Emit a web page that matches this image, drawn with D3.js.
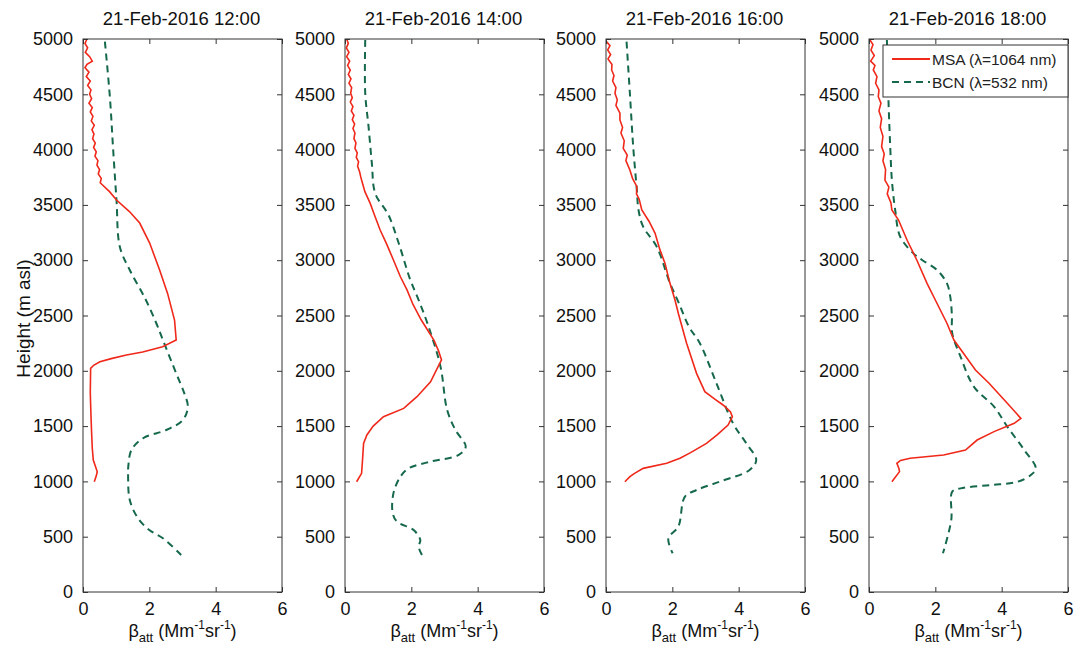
<!DOCTYPE html>
<html>
<head>
<meta charset="UTF-8">
<title>Attenuated backscatter profiles</title>
<style>
  body { margin: 0; background: white; font-family: "Liberation Sans", Arial, sans-serif; }
  .axis path, .axis line { stroke: #333; }
  .axis text { font-size: 18px; fill: #111; font-family: "Liberation Sans", Arial, sans-serif; }
</style>
</head>
<body>
<script src="https://d3js.org/d3.v7.min.js"></script>
<script>
// panel titles
var titles = ["21-Feb-2016 12:00", "21-Feb-2016 14:00", "21-Feb-2016 16:00", "21-Feb-2016 18:00"];
var xTicks = [0, 2, 4, 6];
var yTicks = [0, 500, 1000, 1500, 2000, 2500, 3000, 3500, 4000, 4500, 5000];
var seriesNames = ["MSA (\u03bb=1064 nm)", "BCN (\u03bb=532 nm)"];

// [height m, beta]
var msa12 = [[5000,0.12],[4960,0.06],[4920,0.14],[4880,0.07],[4840,0.2],[4800,0.28],[4770,0.12],[4740,0.06],[4700,0.18],[4660,0.1],[4620,0.22],[4580,0.14],[4540,0.24],[4500,0.2],[4460,0.26],[4420,0.18],[4380,0.28],[4340,0.22],[4300,0.3],[4260,0.25],[4220,0.34],[4180,0.27],[4140,0.33],[4100,0.29],[4060,0.37],[4020,0.32],[3980,0.4],[3940,0.36],[3900,0.45],[3860,0.42],[3820,0.5],[3780,0.46],[3740,0.55],[3700,0.52],[3680,0.59],[3620,0.8],[3544,1.01],[3440,1.4],[3336,1.71],[3155,2.01],[2911,2.31],[2700,2.55],[2459,2.76],[2278,2.81],[2218,2.4],[2170,1.8],[2143,1.31],[2110,0.85],[2082,0.51],[2050,0.32],[2022,0.23],[1800,0.22],[1600,0.24],[1437,0.26],[1300,0.28],[1193,0.31],[1088,0.43],[1050,0.4],[997,0.34]];
var bcn12 = [[4976,0.66],[4478,0.81],[3996,0.91],[3544,1.01],[3122,1.11],[2911,1.41],[2650,1.88],[2430,2.21],[2278,2.41],[1977,2.81],[1800,3.05],[1676,3.16],[1555,3.01],[1465,2.51],[1390,1.81],[1284,1.46],[1150,1.37],[1043,1.36],[832,1.41],[666,1.66],[560,2.0],[486,2.41],[335,2.96]];

var msa14 = [[5000,0.05],[4960,0.1],[4920,0.04],[4880,0.12],[4840,0.05],[4800,0.14],[4760,0.08],[4720,0.16],[4680,0.1],[4640,0.18],[4600,0.12],[4560,0.2],[4509,0.17],[4470,0.22],[4430,0.16],[4390,0.24],[4350,0.19],[4310,0.27],[4270,0.22],[4230,0.29],[4190,0.24],[4150,0.3],[4100,0.27],[4060,0.33],[4011,0.3],[3970,0.37],[3930,0.34],[3890,0.41],[3850,0.38],[3800,0.44],[3760,0.47],[3725,0.5],[3620,0.6],[3514,0.76],[3400,0.9],[3273,1.06],[3150,1.25],[3002,1.46],[2850,1.67],[2731,1.87],[2600,2.05],[2459,2.3],[2278,2.68],[2180,2.82],[2098,2.91],[2022,2.78],[1901,2.58],[1766,2.17],[1660,1.77],[1585,1.16],[1500,0.85],[1420,0.66],[1344,0.56],[1200,0.53],[1073,0.5],[997,0.35]];
var bcn14 = [[4991,0.61],[4509,0.61],[4208,0.71],[3876,0.81],[3605,0.91],[3409,1.31],[3153,1.62],[2821,1.97],[2640,2.22],[2399,2.52],[2037,2.88],[1646,3.08],[1465,3.33],[1314,3.64],[1239,3.43],[1179,2.58],[1118,1.92],[1043,1.67],[892,1.46],[711,1.44],[636,1.57],[560,2.07],[470,2.27],[410,2.22],[335,2.32]];

var msa16 = [[4976,0.02],[4940,0.12],[4900,0.05],[4860,0.14],[4820,0.06],[4770,0.18],[4720,0.17],[4670,0.24],[4620,0.2],[4560,0.3],[4509,0.27],[4450,0.34],[4400,0.3],[4330,0.42],[4268,0.42],[4200,0.5],[4150,0.45],[4080,0.55],[4011,0.52],[3950,0.64],[3900,0.6],[3816,0.72],[3740,0.8],[3665,0.93],[3600,0.92],[3550,1.0],[3454,1.08],[3350,1.3],[3243,1.48],[3100,1.62],[2971,1.78],[2800,1.92],[2640,2.08],[2520,2.18],[2249,2.43],[1977,2.73],[1811,2.98],[1740,3.3],[1691,3.53],[1630,3.75],[1585,3.81],[1510,3.68],[1420,3.35],[1344,3.03],[1260,2.55],[1209,2.23],[1164,1.83],[1118,1.12],[1070,0.85],[1043,0.72],[997,0.57]];
var bcn16 = [[4976,0.62],[4509,0.72],[4027,0.82],[3635,0.93],[3454,0.98],[3303,1.12],[3122,1.53],[2791,1.93],[2610,2.2],[2399,2.5],[2249,2.83],[1887,3.33],[1525,3.83],[1344,4.23],[1193,4.53],[1103,4.33],[997,3.42],[922,2.73],[862,2.38],[591,2.18],[486,1.88],[350,2.01]];

var msa18 = [[4991,0.03],[4950,0.12],[4900,0.06],[4850,0.16],[4800,0.05],[4760,0.18],[4720,0.13],[4660,0.24],[4600,0.2],[4540,0.3],[4478,0.28],[4420,0.36],[4350,0.3],[4280,0.38],[4200,0.34],[4120,0.42],[4027,0.38],[3960,0.46],[3900,0.42],[3820,0.5],[3725,0.48],[3660,0.6],[3600,0.55],[3520,0.66],[3454,0.69],[3363,0.89],[3180,1.15],[3002,1.44],[2791,1.75],[2640,2.0],[2430,2.35],[2278,2.56],[2007,3.21],[1887,3.62],[1706,4.17],[1570,4.58],[1525,4.38],[1450,3.77],[1374,3.26],[1284,2.91],[1239,2.25],[1209,1.24],[1190,0.95],[1164,0.84],[1120,0.9],[1088,0.92],[997,0.69]];
var bcn18 = [[4991,0.54],[4418,0.59],[4027,0.64],[3725,0.69],[3454,0.79],[3213,0.94],[3062,1.34],[3002,1.6],[2911,2.05],[2791,2.35],[2670,2.45],[2500,2.5],[2339,2.51],[2128,2.76],[1857,3.16],[1676,3.77],[1495,4.17],[1284,4.68],[1118,5.03],[1058,4.88],[997,4.48],[967,3.67],[937,2.76],[907,2.51],[651,2.48],[350,2.23]];

var msaAll = [msa12, msa14, msa16, msa18];
var bcnAll = [bcn12, bcn14, bcn16, bcn18];

var width = 1082, height = 646;
var red = "#f0281a", green = "#15694a";
var panelLeft = [83, 345, 606, 869];
var panelW = 199, plotTop = 39, plotBottom = 592;

var svg = d3.select("body").append("svg")
    .attr("width", width)
    .attr("height", height);

var y = d3.scaleLinear().domain([0, 5000]).range([plotBottom, plotTop]);

titles.forEach(function(t, i) {
    var x = d3.scaleLinear().domain([0, 6]).range([panelLeft[i], panelLeft[i] + panelW]);
    var g = svg.append("g");

    var line = d3.line()
        .x(function(d) { return x(d[1]); })
        .y(function(d) { return y(d[0]); });

    g.append("path")
        .datum(bcnAll[i])
        .attr("d", line.curve(d3.curveCatmullRom.alpha(0.5)))
        .attr("fill", "none").attr("stroke", green)
        .attr("stroke-width", 2).attr("stroke-dasharray", "7,5");

    g.append("path")
        .datum(msaAll[i])
        .attr("d", line.curve(d3.curveLinear))
        .attr("fill", "none").attr("stroke", red)
        .attr("stroke-width", 1.6);

    // box
    g.append("rect")
        .attr("x", x(0)).attr("y", plotTop)
        .attr("width", x(6) - x(0)).attr("height", plotBottom - plotTop)
        .attr("fill", "none").attr("stroke", "#333").attr("stroke-width", 1);

    // inward ticks, all four sides
    g.append("g").attr("class", "axis")
        .attr("transform", "translate(0," + plotBottom + ")")
        .call(d3.axisBottom(x).tickValues(xTicks).tickSizeInner(-5).tickSizeOuter(0).tickPadding(10).tickFormat(d3.format("d")))
        .call(function(a) { a.select(".domain").remove(); });
    g.append("g").attr("class", "axis")
        .attr("transform", "translate(0," + plotTop + ")")
        .call(d3.axisTop(x).tickValues(xTicks).tickSizeInner(-5).tickSizeOuter(0).tickFormat(""))
        .call(function(a) { a.select(".domain").remove(); });
    g.append("g").attr("class", "axis")
        .attr("transform", "translate(" + x(0) + ",0)")
        .call(d3.axisLeft(y).tickValues(yTicks).tickSizeInner(-5).tickSizeOuter(0).tickPadding(10).tickFormat(d3.format("d")))
        .call(function(a) { a.select(".domain").remove(); });
    g.append("g").attr("class", "axis")
        .attr("transform", "translate(" + x(6) + ",0)")
        .call(d3.axisRight(y).tickValues(yTicks).tickSizeInner(-5).tickSizeOuter(0).tickFormat(""))
        .call(function(a) { a.select(".domain").remove(); });

    // title
    g.append("text")
        .attr("x", (x(0) + x(6)) / 2 - 1).attr("y", 25)
        .attr("text-anchor", "middle")
        .style("font-size", "18.5px").attr("fill", "#111")
        .text(t);

    // x label
    var xl = g.append("text")
        .attr("x", (x(0) + x(6)) / 2).attr("y", 637)
        .attr("text-anchor", "middle")
        .style("font-size", "18px").attr("fill", "#111");
    xl.append("tspan").text("\u03b2");
    xl.append("tspan").attr("dy", 5).style("font-size", "13px").text("att");
    xl.append("tspan").attr("dy", -5).text(" (Mm");
    xl.append("tspan").attr("dy", -8).style("font-size", "12px").text("-1");
    xl.append("tspan").attr("dy", 8).text("sr");
    xl.append("tspan").attr("dy", -8).style("font-size", "12px").text("-1");
    xl.append("tspan").attr("dy", 8).text(")");
});

// y label
svg.append("text")
    .attr("transform", "translate(30," + ((plotTop + plotBottom) / 2 + 3) + ") rotate(-90)")
    .attr("text-anchor", "middle")
    .style("font-size", "19px").attr("fill", "#111")
    .text("Height (m asl)");

// legend on last panel
var lg = svg.append("g").attr("transform", "translate(883,45)");
lg.append("rect").attr("width", 185).attr("height", 52)
    .attr("fill", "white").attr("stroke", "#333");
[red, green].forEach(function(c, k) {
    lg.append("line")
        .attr("x1", 9).attr("x2", 47)
        .attr("y1", 14 + k * 23).attr("y2", 14 + k * 23)
        .attr("stroke", c).attr("stroke-width", 2)
        .attr("stroke-dasharray", k ? "7,5" : null);
    lg.append("text")
        .attr("x", 49).attr("y", 20 + k * 23)
        .style("font-size", "15.5px").attr("fill", "#222")
        .text(seriesNames[k]);
});
</script>
</body>
</html>
